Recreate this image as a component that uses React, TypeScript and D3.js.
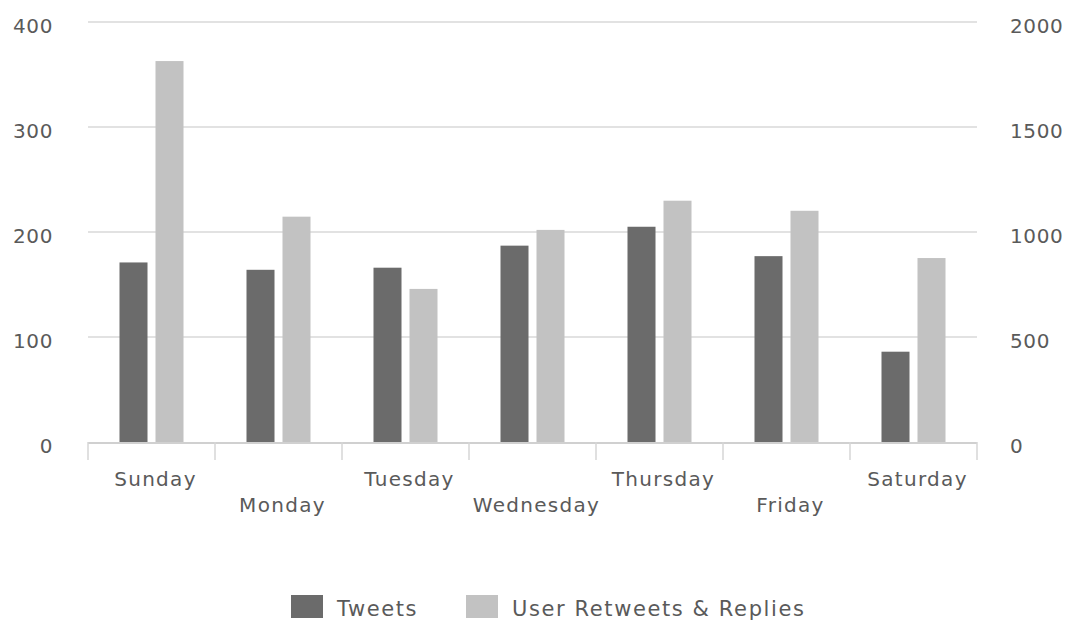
import React, { useEffect, useRef } from 'react';
import * as d3 from 'd3';

// chart data
const days = ['Sunday', 'Monday', 'Tuesday', 'Wednesday', 'Thursday', 'Friday', 'Saturday'];
const tweets = [171, 164, 166, 187, 205, 177, 86];
const retweets = [1814, 1073, 729, 1010, 1149, 1101, 876];
const leftTicks = [0, 100, 200, 300, 400];
const rightTicks = [0, 500, 1000, 1500, 2000];
const seriesNames = ['Tweets', 'User Retweets & Replies'];
const seriesColors = ['#6b6b6b', '#c2c2c2'];

function App() {
  const svgRef = useRef<SVGSVGElement>(null);

  useEffect(() => {
    const svg = d3.select(svgRef.current);
    svg.selectAll('*').remove();

    const W = 1072, H = 623;
    const left = 88, right = 977, top = 22, bottom = 442;
    const font = '"DejaVu Sans", Verdana, sans-serif';
    const textColor = '#5a5a5a';

    const x = d3.scaleBand().domain(days).range([left, right]).padding(0);
    const yL = d3.scaleLinear().domain([0, 400]).range([bottom, top]);
    const yR = d3.scaleLinear().domain([0, 2000]).range([bottom, top]);

    const g = svg.append('g');

    // horizontal gridlines
    g.selectAll('.grid')
      .data(leftTicks.filter(d => d > 0))
      .enter()
      .append('line')
      .attr('x1', left)
      .attr('x2', right)
      .attr('y1', d => yL(d))
      .attr('y2', d => yL(d))
      .attr('stroke', '#e2e2e2')
      .attr('stroke-width', 2);

    // left axis labels
    g.selectAll('.lt')
      .data(leftTicks)
      .enter()
      .append('text')
      .attr('x', 53)
      .attr('y', d => yL(d) + 11)
      .attr('text-anchor', 'end')
      .style('font-family', font)
      .style('font-size', '20px')
      .style('letter-spacing', '0.6px')
      .attr('fill', textColor)
      .text(d => d);

    // right axis labels
    g.selectAll('.rt')
      .data(rightTicks)
      .enter()
      .append('text')
      .attr('x', 1010)
      .attr('y', d => yR(d) + 11)
      .attr('text-anchor', 'start')
      .style('font-family', font)
      .style('font-size', '20px')
      .style('letter-spacing', '0.6px')
      .attr('fill', textColor)
      .text(d => d);

    // bars
    const barW = 28, gap = 8;
    const bw = x.bandwidth();
    const offset = (bw - (barW * 2 + gap)) / 2;

    g.selectAll('.b1')
      .data(days)
      .enter()
      .append('rect')
      .attr('x', d => (x(d) as number) + offset)
      .attr('y', (d, i) => yL(tweets[i]))
      .attr('width', barW)
      .attr('height', (d, i) => bottom - yL(tweets[i]))
      .attr('fill', seriesColors[0]);

    g.selectAll('.b2')
      .data(days)
      .enter()
      .append('rect')
      .attr('x', d => (x(d) as number) + offset + barW + gap)
      .attr('y', (d, i) => yR(retweets[i]))
      .attr('width', barW)
      .attr('height', (d, i) => bottom - yR(retweets[i]))
      .attr('fill', seriesColors[1]);

    // x axis line and ticks
    g.append('line')
      .attr('x1', left)
      .attr('x2', right)
      .attr('y1', bottom + 1)
      .attr('y2', bottom + 1)
      .attr('stroke', '#d0d0d0')
      .attr('stroke-width', 2);

    const tickXs = days.map(d => x(d) as number).concat([right]);
    g.selectAll('.tick')
      .data(tickXs)
      .enter()
      .append('line')
      .attr('x1', d => d)
      .attr('x2', d => d)
      .attr('y1', bottom)
      .attr('y2', bottom + 18)
      .attr('stroke', '#d6d6d6')
      .attr('stroke-width', 1.5);

    // staggered category labels
    g.selectAll('.xl')
      .data(days)
      .enter()
      .append('text')
      .attr('x', d => (x(d) as number) + bw / 2 + 4)
      .attr('y', (d, i) => (i % 2 === 0 ? 486 : 512))
      .attr('text-anchor', 'middle')
      .style('font-family', font)
      .style('font-size', '20px')
      .style('letter-spacing', '1.3px')
      .attr('fill', textColor)
      .text(d => d);

    // legend
    const legendItems = [
      { name: seriesNames[0], color: seriesColors[0], x: 291 },
      { name: seriesNames[1], color: seriesColors[1], x: 466 },
    ];
    const lg = g.selectAll('.lg')
      .data(legendItems)
      .enter()
      .append('g');
    lg.append('rect')
      .attr('x', d => d.x)
      .attr('y', 595)
      .attr('width', 32)
      .attr('height', 23)
      .attr('fill', d => d.color);
    lg.append('text')
      .attr('x', d => d.x + 46)
      .attr('y', 616)
      .style('font-family', font)
      .style('font-size', '21px')
      .style('letter-spacing', '1.6px')
      .attr('fill', textColor)
      .text(d => d.name);

    svg.attr('width', W).attr('height', H);
  }, []);

  return (
    <svg
      ref={svgRef}
      width={1072}
      height={623}
      style={{ position: 'absolute', left: 0, top: 0, background: '#fff' }}
    />
  );
}

export default App;
